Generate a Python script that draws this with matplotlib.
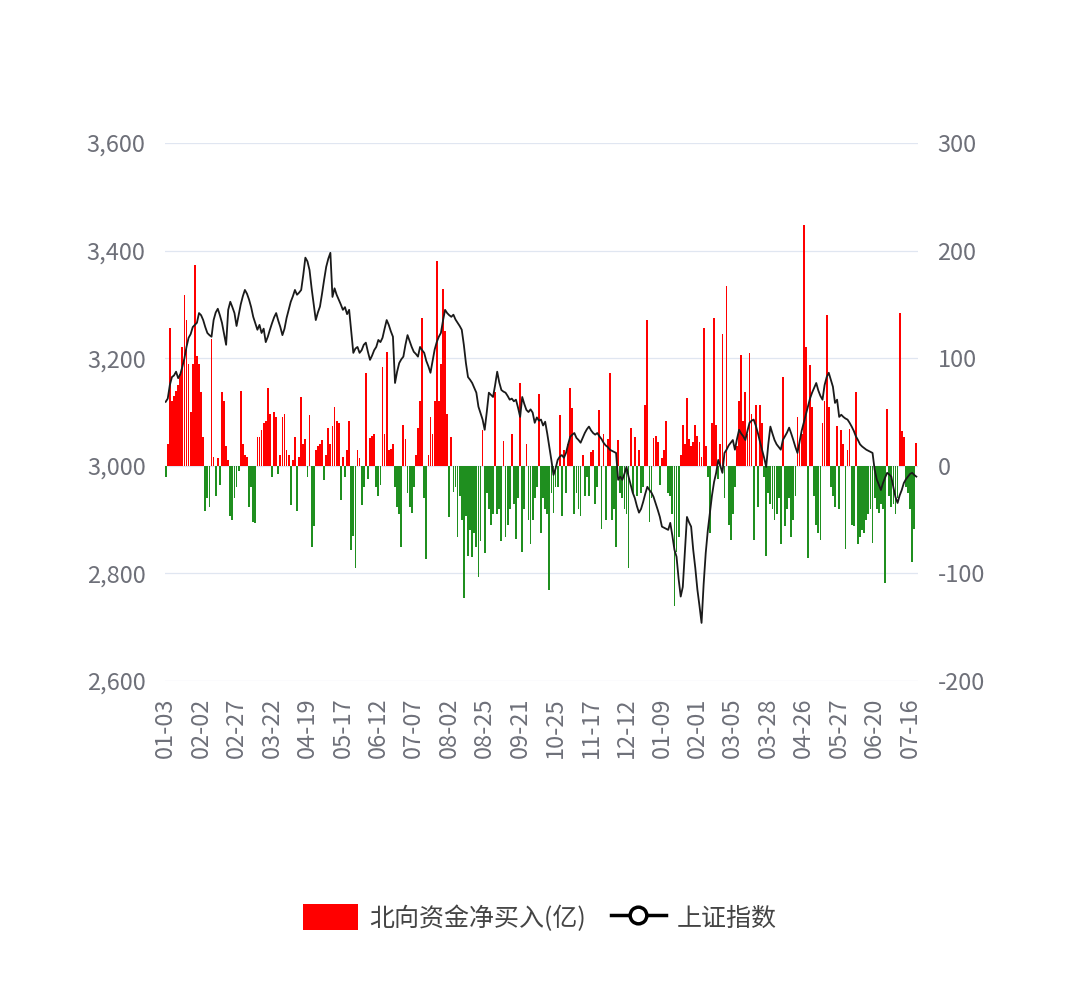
import matplotlib
matplotlib.use("Agg")
import matplotlib.pyplot as plt
from matplotlib.patches import Patch
from matplotlib.lines import Line2D
from matplotlib.ticker import FuncFormatter, MultipleLocator

plt.rcParams['font.family'] = ['Noto Sans CJK SC', 'DejaVu Sans']
plt.rcParams['axes.unicode_minus'] = False

# 刻度标签 (每 17 个交易日一个)
tick_labels = ['01-03', '02-02', '02-27', '03-22', '04-19', '05-17', '06-12', '07-07',
               '08-02', '08-25', '09-21', '10-25', '11-17', '12-12', '01-09', '02-01',
               '03-05', '03-28', '04-26', '05-27', '06-20', '07-16']

# 上证指数
sh_index = [
    3119, 3125, 3150, 3165, 3168, 3175, 3163, 3170, 3184, 3200, 3221, 3238, 3245, 3258, 3262, 3266, 3284,
    3280, 3271, 3258, 3247, 3243, 3240, 3271, 3285, 3292, 3280, 3266, 3245, 3225, 3290, 3305, 3295, 3284,
    3260, 3280, 3300, 3315, 3327, 3320, 3309, 3295, 3277, 3265, 3253, 3262, 3247, 3255, 3230, 3240, 3253,
    3265, 3276, 3284, 3270, 3258, 3243, 3255, 3275, 3290, 3305, 3315, 3327, 3318, 3322, 3327, 3355, 3387,
    3380, 3364, 3330, 3300, 3271, 3285, 3296, 3320, 3346, 3370, 3385, 3396, 3314, 3330, 3318, 3309, 3300,
    3290, 3295, 3282, 3290, 3250, 3210, 3218, 3221, 3210, 3215, 3225, 3229, 3212, 3197, 3205, 3215, 3221,
    3234, 3230, 3238, 3255, 3271, 3262, 3250, 3240, 3154, 3175, 3191, 3198, 3203, 3225, 3243, 3232, 3221,
    3212, 3208, 3203, 3221, 3215, 3210, 3195, 3185, 3173, 3195, 3216, 3230, 3240, 3247, 3270, 3290, 3284,
    3280, 3277, 3281, 3272, 3266, 3260, 3253, 3225, 3191, 3165, 3160, 3154, 3145, 3136, 3110, 3098, 3086,
    3067, 3100, 3136, 3132, 3128, 3150, 3175, 3155, 3141, 3138, 3136, 3130, 3123, 3125, 3120, 3123, 3108,
    3091, 3128, 3115, 3104, 3100, 3105, 3099, 3080, 3090, 3084, 3086, 3075, 3082, 3060, 3035, 3010, 2983,
    2995, 3011, 3017, 3020, 3015, 3024, 3040, 3054, 3058, 3061, 3052, 3048, 3043, 3052, 3061, 3068, 3073,
    3066, 3061, 3058, 3061, 3055, 3050, 3043, 3038, 3035, 3030, 3028, 3026, 3024, 2974, 2980, 2974, 2985,
    2998, 2980, 2965, 2950, 2940, 2925, 2913, 2920, 2933, 2948, 2961, 2955, 2950, 2942, 2930, 2918, 2905,
    2887, 2885, 2883, 2881, 2894, 2870, 2844, 2831, 2790, 2757, 2775, 2840, 2905, 2895, 2887, 2844, 2810,
    2770, 2740, 2708, 2780, 2838, 2880, 2913, 2945, 2970, 2987, 3011, 3000, 2987, 3024, 3030, 3038, 3043,
    3048, 3030, 3050, 3067, 3060, 3055, 3048, 3065, 3080, 3084, 3086, 3075, 3061, 3045, 3030, 3015, 2998,
    3040, 3073, 3060, 3048, 3040, 3035, 3030, 3048, 3055, 3062, 3071, 3060, 3048, 3035, 3024, 3045, 3065,
    3080, 3095, 3110, 3125, 3136, 3145, 3154, 3140, 3130, 3123, 3150, 3165, 3173, 3160, 3147, 3117, 3123,
    3091, 3095, 3091, 3088, 3086, 3080, 3073, 3065, 3055, 3048, 3040, 3036, 3033, 3030, 3028, 3026, 3024,
    2993, 2975, 2965, 2955, 2968, 2978, 2987, 2984, 2980, 2960, 2942, 2931, 2945, 2955, 2968, 2975, 2980,
    2985, 2987, 2983, 2980,
]

# 北向资金净买入(亿)
north_flow = [
    -10, 20, 128, 60, 65, 70, 75, 85, 110, 159, 136, 95, 50, 95, 187, 102, 95,
    69, 27, -42, -30, -38, 118, 8, -28, 7, -18, 69, 60, 18, 5, -47, -50, -30,
    -20, -5, 70, 20, 10, 8, -38, -20, -52, -53, 27, 27, 33, 40, 42, 72, 48,
    -10, 50, 45, -8, 10, 45, 48, 15, 10, -36, 5, 27, -42, 8, 64, 20, 25,
    -10, 47, -75, -56, 15, 18, 20, 24, -13, 10, 35, 20, 37, 55, 42, 40, -32,
    8, -10, 15, 42, -78, -65, -95, 15, 7, -36, -20, 86, -12, 26, 28, 30, -20,
    -28, -18, 92, 30, 106, 15, 16, 20, -20, -38, -45, -75, 38, 25, -25, -38, -44,
    -20, 10, 35, 60, 137, -30, -87, 10, 45, 30, 60, 190, 60, 95, 164, 125, 48,
    -48, 27, -24, -20, -66, -28, -50, -123, -47, -84, -60, -85, -62, -75, -103, -70, 33,
    -81, -25, -40, -55, -45, 69, -45, -40, -70, 23, -66, -55, -40, 30, -35, -68, -30,
    77, -80, -40, 20, -50, -73, -50, -30, -20, 67, -62, -30, -40, -45, -115, -25, -44,
    -20, -20, 47, -47, 15, -25, 20, 72, 54, -45, -25, -40, -47, 10, -28, -10, -28,
    13, 15, -35, -20, 52, -59, 30, -50, 25, 86, -50, -40, -75, 24, -25, -30, -40,
    -45, -95, 35, -25, 27, -28, 15, -25, -20, 57, 136, -52, -30, 26, 28, 22, -18,
    7, 15, 42, -25, -28, -45, -130, -80, -66, 10, 38, 20, 63, 25, 18, 22, 38,
    28, 22, 8, 128, 18, -10, -62, 40, 137, 38, -12, 20, 123, -30, 167, -55, -69,
    -45, -20, 18, 60, 103, 42, 69, 30, 105, 48, -69, 57, -38, 57, 40, -10, -84,
    -25, -35, -40, -50, -45, -30, -73, 83, -56, -40, -30, -66, -50, -28, 45, 20, 30,
    224, 110, -86, 94, 55, -28, -55, -62, -69, 40, 60, 140, 55, -20, -28, -38, 37,
    -40, 33, 20, -77, 15, 34, -55, -56, 69, -73, -66, -60, -62, -50, -45, -40, -72,
    -30, -40, -44, -35, -40, -109, 53, -28, -38, -35, -45, -30, 142, 32, 27, -20, -25,
    -40, -89, -59, 21,
]

n = min(len(sh_index), len(north_flow))
x = list(range(n))
grey = '#6e7079'

fig = plt.figure(figsize=(10.8, 9.86), dpi=100)
ax = fig.add_axes([0.1528, 0.3093, 0.6972, 0.5456])

# 柱子画在底层坐标轴上(右侧刻度)
colors = ['#ff0000' if v >= 0 else '#1f8f1f' for v in north_flow[:n]]
ax.bar(x, north_flow[:n], width=0.85, color=colors, linewidth=0)
ax.set_ylim(-200, 300)
ax.yaxis.set_major_locator(MultipleLocator(100))
ax.grid(axis='y', color='#e0e6f1', linewidth=0.9)
ax.set_axisbelow(True)

# 上证指数画在上层坐标轴上(左侧刻度)
ax2 = ax.twinx()
ax2.plot(x, sh_index[:n], color='#1a1a1a', linewidth=1.3)
ax2.set_ylim(2600, 3600)
ax2.yaxis.set_major_locator(MultipleLocator(200))
ax2.yaxis.set_major_formatter(FuncFormatter(lambda v, p: f'{v:,.0f}'))

# twinx 之后再交换左右刻度
ax.yaxis.tick_right()
ax2.yaxis.tick_left()

ax.set_xlim(-0.3, 360.8)
ax.set_xticks([17 * k for k in range(len(tick_labels))])
ax.set_xticklabels(tick_labels, rotation=90)

for a in (ax, ax2):
    for s in a.spines.values():
        s.set_visible(False)
    a.tick_params(axis='both', length=0, labelsize=17, labelcolor=grey)
ax.tick_params(axis='y', pad=14)
ax2.tick_params(axis='y', pad=14)
ax.tick_params(axis='x', pad=12)

handles = [
    Patch(facecolor='#ff0000', edgecolor='none', label='北向资金净买入(亿)'),
    Line2D([0], [0], color='black', linewidth=2.5, marker='o', markersize=12,
           markerfacecolor='white', markeredgecolor='black', markeredgewidth=2.5,
           label='上证指数'),
]
fig.legend(handles=handles, loc='center', bbox_to_anchor=(0.5, 0.069), ncol=2,
           frameon=False, fontsize=18, labelcolor='#444444', handlelength=2.2,
           handleheight=1.2, handletextpad=0.45, columnspacing=1.0)

fig.savefig('out.png', dpi=100)
